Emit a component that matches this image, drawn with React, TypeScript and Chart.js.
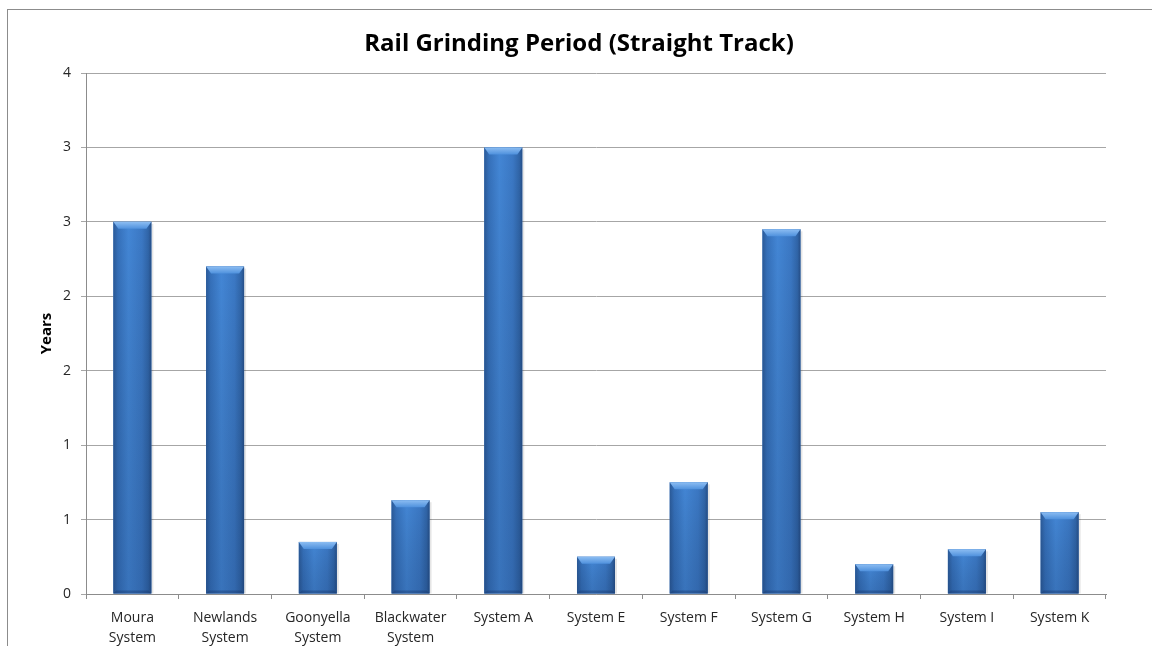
import React, { useEffect, useRef } from "react";
import { Chart, registerables } from "chart.js";

Chart.register(...registerables);

const categories: string[][] = [
  ["Moura", "System"],
  ["Newlands", "System"],
  ["Goonyella", "System"],
  ["Blackwater", "System"],
  ["System A"],
  ["System E"],
  ["System F"],
  ["System G"],
  ["System H"],
  ["System I"],
  ["System K"],
];

const years: number[] = [2.5, 2.2, 0.35, 0.63, 3.0, 0.25, 0.75, 2.45, 0.2, 0.3, 0.55];

const yTickLabels: string[] = ["0", "1", "1", "2", "2", "3", "3", "4"];

const chartTitle = "Rail Grinding Period (Straight Track)";
const yAxisTitle = "Years";

const FONT = "'Open Sans', 'Liberation Sans', sans-serif";

const framePlugin = {
  id: "frame",
  beforeDraw(chart: any) {
    const ctx = chart.ctx;
    ctx.save();
    ctx.fillStyle = "#ffffff";
    ctx.fillRect(0, 0, chart.width, chart.height);
    ctx.strokeStyle = "#8c8c8c";
    ctx.lineWidth = 1;
    ctx.strokeRect(7.5, 9.5, chart.width + 20, chart.height + 20);
    ctx.restore();
  },
  afterDraw(chart: any) {
    const ctx = chart.ctx;
    ctx.save();
    ctx.fillStyle = "#000000";
    ctx.font = `bold 24px ${FONT}`;
    ctx.textAlign = "center";
    ctx.textBaseline = "middle";
    ctx.fillText(chartTitle, 579, 44);
    ctx.restore();
  },
};

const bevelPlugin = {
  id: "bevelBars",
  afterDatasetsDraw(chart: any) {
    const ctx = chart.ctx;
    const meta = chart.getDatasetMeta(0);
    ctx.save();
    meta.data.forEach((el: any) => {
      const { x, y, base, width } = el.getProps(["x", "y", "base", "width"], true);
      const left = x - width / 2;
      const right = x + width / 2;
      const top = Math.min(y, base);
      const bottom = Math.max(y, base);
      const h = bottom - top;
      ctx.fillStyle = "rgba(0,0,0,0.10)";
      ctx.fillRect(right, top + 2, 2, h - 2);
      const g = ctx.createLinearGradient(left, 0, right, 0);
      g.addColorStop(0, "#2b5a98");
      g.addColorStop(0.12, "#3570ba");
      g.addColorStop(0.4, "#4386d5");
      g.addColorStop(0.75, "#3b78c4");
      g.addColorStop(0.92, "#3065a8");
      g.addColorStop(1, "#264f88");
      ctx.fillStyle = g;
      ctx.fillRect(left, top, width, h);
      const gv = ctx.createLinearGradient(0, top, 0, bottom);
      gv.addColorStop(0, "rgba(0,0,0,0)");
      gv.addColorStop(1, "rgba(10,30,70,0.18)");
      ctx.fillStyle = gv;
      ctx.fillRect(left, top, width, h);
      const bev = Math.min(7, h / 2);
      const gb = ctx.createLinearGradient(0, top, 0, top + bev);
      gb.addColorStop(0, "#8cbdf2");
      gb.addColorStop(1, "#4f91dd");
      ctx.fillStyle = gb;
      ctx.beginPath();
      ctx.moveTo(left, top);
      ctx.lineTo(right, top);
      ctx.lineTo(right - 5, top + bev);
      ctx.lineTo(left + 5, top + bev);
      ctx.closePath();
      ctx.fill();
      ctx.fillStyle = "rgba(20,50,100,0.35)";
      ctx.beginPath();
      ctx.moveTo(left, bottom);
      ctx.lineTo(right, bottom);
      ctx.lineTo(right - 3, bottom - 3);
      ctx.lineTo(left + 3, bottom - 3);
      ctx.closePath();
      ctx.fill();
    });
    ctx.restore();
  },
};

export default function App() {
  const canvasRef = useRef<HTMLCanvasElement | null>(null);

  useEffect(() => {
    const canvas = canvasRef.current;
    if (!canvas) return;
    const chart = new Chart(canvas, {
      type: "bar",
      data: {
        labels: categories,
        datasets: [
          {
            label: yAxisTitle,
            data: years,
            backgroundColor: "#3d7cc9",
            borderWidth: 0,
            barPercentage: 0.41,
            categoryPercentage: 1,
          },
        ],
      },
      plugins: [framePlugin, bevelPlugin],
      options: {
        responsive: false,
        animation: false,
        layout: { padding: { left: 0, right: 0, top: 73, bottom: 0 } },
        plugins: {
          legend: { display: false },
          title: { display: false },
          tooltip: { enabled: false },
        },
        scales: {
          x: {
            grid: {
              display: true,
              drawOnChartArea: false,
              drawTicks: true,
              tickLength: 5,
              color: "#8c8c8c",
              offset: true,
            },
            border: { display: true, color: "#8c8c8c" },
            ticks: {
              color: "#262626",
              font: { family: FONT, size: 14, lineHeight: 1.43 },
              padding: 9,
              maxRotation: 0,
              autoSkip: false,
            },
            afterFit: (s: any) => {
              s.height = 52;
            },
          },
          y: {
            min: 0,
            max: 3.5,
            grid: {
              color: "#a6a6a6",
              tickLength: 5,
              drawTicks: true,
            },
            border: { display: true, color: "#8c8c8c" },
            ticks: {
              stepSize: 0.5,
              color: "#262626",
              font: { family: FONT, size: 14 },
              padding: 10,
              callback: (_v: any, i: number) => yTickLabels[i],
            },
            title: {
              display: true,
              text: yAxisTitle,
              color: "#000000",
              font: { family: FONT, size: 15, weight: "bold" },
              padding: { top: 38, bottom: 0 },
            },
            afterFit: (s: any) => {
              s.width = 86;
            },
          },
          y2: {
            position: "right",
            display: true,
            grid: { display: false, drawTicks: false },
            border: { display: false },
            ticks: { display: false },
            afterFit: (s: any) => {
              s.width = 46;
            },
          },
        },
      } as any,
    });
    return () => chart.destroy();
  }, []);

  return (
    <div style={{ position: "fixed", left: 0, top: 0, width: 1152, height: 646, background: "#fff" }}>
      <canvas ref={canvasRef} width={1152} height={646} style={{ display: "block" }} />
    </div>
  );
}
